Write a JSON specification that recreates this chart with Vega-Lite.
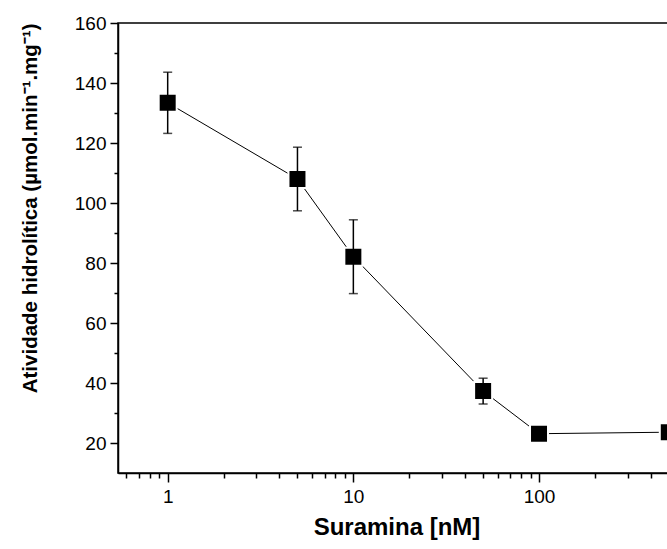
{
  "$schema": "https://vega.github.io/schema/vega-lite/v6.json",
  "autosize": {"type": "none"},
  "padding": {"left": 118, "top": 23, "right": 0, "bottom": 76},
  "width": 557,
  "height": 450,
  "config": {
    "view": {"stroke": "black", "strokeWidth": 1.5},
    "font": "Liberation Sans",
    "axis": {"grid": false, "domainColor": "black", "tickColor": "black", "labelColor": "black", "titleColor": "black", "domainWidth": 1.5, "tickWidth": 1.5, "labelFlush": false, "labelOverlap": false}
  },
  "data": {
    "values": [
      {"c": 1, "a": 133.4, "err": 10.2},
      {"c": 5, "a": 108.0, "err": 10.6},
      {"c": 10, "a": 82.1, "err": 12.3},
      {"c": 50, "a": 37.3, "err": 4.3},
      {"c": 100, "a": 23.1, "err": 0},
      {"c": 500, "a": 23.6, "err": 0}
    ]
  },
  "layer": [
    {
      "mark": {"type": "line", "color": "black", "strokeWidth": 1},
      "encoding": {
        "x": {"field": "c", "type": "quantitative", "scale": {"type": "log", "domain": [0.54, 540], "nice": false},
          "axis": {"orient": "bottom", "values": [1, 10, 100], "format": "d", "title": "Suramina [nM]", "titleFontSize": 24, "titleFontWeight": "bold", "labelFontSize": 19, "tickSize": 9, "labelPadding": 5, "titlePadding": 9}},
        "y": {"field": "a", "type": "quantitative", "scale": {"domain": [10, 160], "nice": false, "zero": false},
          "axis": {"orient": "left", "values": [20, 40, 60, 80, 100, 120, 140, 160], "title": "Atividade hidrolítica (µmol.min⁻¹.mg⁻¹)", "titleFontSize": 20.5, "titleFontWeight": "bold", "titleAnchor": "end", "labelFontSize": 19, "tickSize": 8, "labelPadding": 4, "titlePadding": 34}}
      }
    },
    {
      "mark": {"type": "point", "shape": "square", "filled": true, "size": 324, "fill": "black", "stroke": "white", "strokeWidth": 2, "opacity": 1},
      "encoding": {
        "x": {"field": "c", "type": "quantitative", "scale": {"type": "log", "domain": [0.54, 540], "nice": false},
          "axis": {"orient": "bottom", "values": [0.6, 0.7, 0.8, 0.9, 2, 3, 4, 5, 6, 7, 8, 9, 20, 30, 40, 50, 60, 70, 80, 90, 200, 300, 400, 500], "labels": false, "domain": false, "title": null, "tickSize": 5}},
        "y": {"field": "a", "type": "quantitative", "scale": {"domain": [10, 160], "nice": false, "zero": false},
          "axis": {"orient": "left", "values": [30, 50, 70, 90, 110, 130, 150], "labels": false, "domain": false, "title": null, "tickSize": 4}}
      }
    },
    {
      "transform": [{"filter": "datum.err > 0"}],
      "mark": {"type": "errorbar", "color": "black", "thickness": 1.5, "ticks": {"size": 9, "thickness": 1.5, "color": "black"}},
      "encoding": {
        "x": {"field": "c", "type": "quantitative", "axis": null},
        "y": {"field": "a", "type": "quantitative", "axis": null},
        "yError": {"field": "err"}
      }
    }
  ],
  "resolve": {"axis": {"x": "independent", "y": "independent"}}
}
